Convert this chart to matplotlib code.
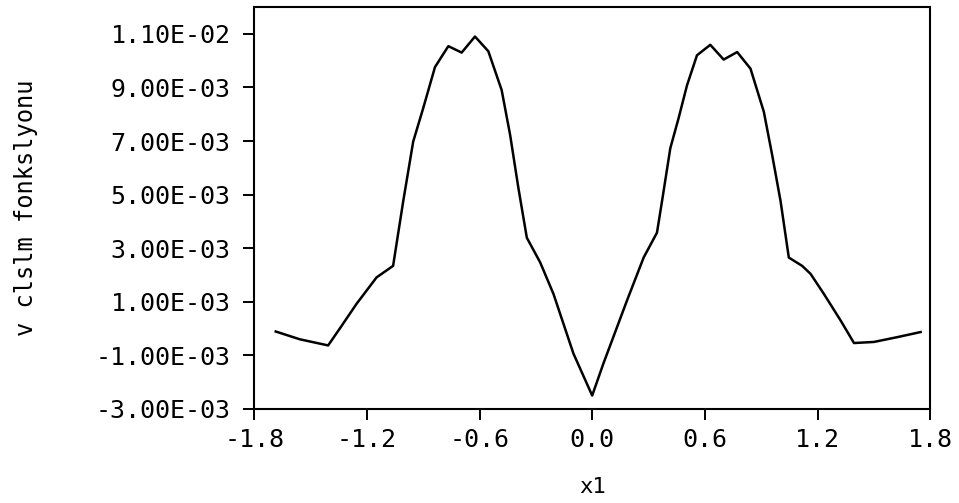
import numpy as np
import matplotlib
matplotlib.use("Agg")
import matplotlib.pyplot as plt

# ------------------------------------------------------------------ data
x1 = [-1.685, -1.557, -1.406, -1.344, -1.255, -1.148, -1.060, -1.042, -1.006,
      -0.953, -0.900, -0.837, -0.766, -0.695, -0.624, -0.553, -0.482, -0.437,
      -0.393, -0.348, -0.277, -0.206, -0.100, 0.000,
      0.060, 0.185, 0.274, 0.345, 0.372, 0.416, 0.460, 0.505, 0.558, 0.629,
      0.700, 0.772, 0.843, 0.914, 0.958, 1.003, 1.047, 1.118, 1.163, 1.234,
      1.323, 1.394, 1.500, 1.625, 1.749]
v = [-0.11e-3, -0.40e-3, -0.63e-3, 0.00e-3, 0.92e-3, 1.91e-3, 2.34e-3, 3.15e-3,
     4.76e-3, 6.98e-3, 8.22e-3, 9.76e-3, 10.54e-3, 10.30e-3, 10.90e-3, 10.35e-3,
     8.90e-3, 7.23e-3, 5.25e-3, 3.39e-3, 2.47e-3, 1.29e-3, -0.93e-3, -2.50e-3,
     -1.30e-3, 1.04e-3, 2.65e-3, 3.58e-3, 4.76e-3, 6.73e-3, 7.85e-3, 9.08e-3,
     10.20e-3, 10.59e-3, 10.04e-3, 10.32e-3, 9.70e-3, 8.09e-3, 6.49e-3, 4.76e-3,
     2.65e-3, 2.34e-3, 2.04e-3, 1.29e-3, 0.30e-3, -0.54e-3, -0.50e-3, -0.32e-3,
     -0.13e-3]

xticks = [-1.8, -1.2, -0.6, 0.0, 0.6, 1.2, 1.8]
xtick_labels = ["-1.8", "-1.2", "-0.6", "0.0", "0.6", "1.2", "1.8"]
yticks = [-3e-3, -1e-3, 1e-3, 3e-3, 5e-3, 7e-3, 9e-3, 11e-3]
ytick_labels = ["-3.00E-03", "-1.00E-03", "1.00E-03", "3.00E-03",
                "5.00E-03", "7.00E-03", "9.00E-03", "1.10E-02"]

# ------------------------------------------------------------------ plot
plt.rcParams["font.family"] = ["DejaVu Sans Mono", "DejaVu Sans"]

fig = plt.figure(figsize=(9.59, 5.03), dpi=100)
ax = fig.add_axes([0.265, 0.187, 0.705, 0.799])

ax.plot(x1, v, color="black", linewidth=1.8)

ax.set_xlim(-1.8, 1.8)
ax.set_ylim(-3e-3, 0.012)
ax.set_xticks(xticks)
ax.set_xticklabels(xtick_labels)
ax.set_yticks(yticks)
ax.set_yticklabels(ytick_labels)
ax.tick_params(direction="out", length=8, width=1.4, labelsize=18)
ax.tick_params(axis="y", pad=9)
ax.tick_params(axis="x", pad=6)

for s in ax.spines.values():
    s.set_linewidth(1.5)

ax.set_xlabel("x1", fontsize=16, labelpad=18)
ax.set_ylabel("v clslm fonkslyonu", fontsize=17, labelpad=8)
ax.yaxis.set_label_coords(-0.32, 0.5)

fig.savefig("out.png", dpi=100)
